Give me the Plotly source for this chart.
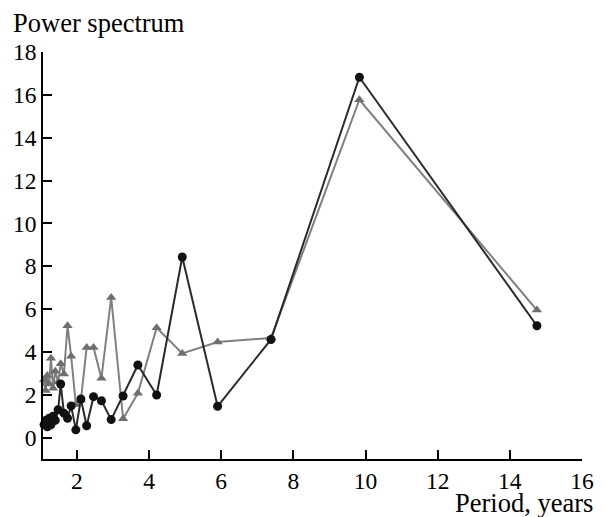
import plotly.graph_objects as go

# Periods (years)
periods = [14.75, 9.83, 7.38, 5.90, 4.92, 4.21, 3.69, 3.28, 2.95, 2.68,
           2.46, 2.27, 2.11, 1.97, 1.84, 1.74, 1.64, 1.55, 1.48, 1.40,
           1.34, 1.28, 1.23, 1.18, 1.13, 1.09, 1.05]

# Power spectrum, series with circles (black)
power_circles = [5.22, 16.82, 4.58, 1.46, 8.43, 1.99, 3.39, 1.94, 0.84, 1.72,
                 1.91, 0.55, 1.80, 0.36, 1.48, 0.90, 1.14, 2.50, 1.30, 0.80,
                 1.00, 0.60, 0.90, 0.50, 0.80, 0.60, 0.90]

# Power spectrum, series with triangles (grey)
power_triangles = [5.95, 15.77, 4.65, 4.46, 3.93, 5.13, 2.07, 0.88, 6.54, 2.77,
                   4.20, 4.20, 1.75, 1.55, 3.80, 5.22, 2.97, 3.45, 2.60, 3.10,
                   2.30, 3.70, 2.50, 2.90, 2.20, 2.70, 2.40]

x_ticks = [2, 4, 6, 8, 10, 12, 14, 16]
y_ticks = [0, 2, 4, 6, 8, 10, 12, 14, 16, 18]

FONT = "Liberation Serif, Times New Roman, serif"

fig = go.Figure()
fig.add_trace(go.Scatter(
    x=periods, y=power_triangles, mode="lines+markers",
    line=dict(color="#808080", width=2),
    marker=dict(symbol="triangle-up", size=9, color="#6e6e6e"),
    showlegend=False, cliponaxis=False))
fig.add_trace(go.Scatter(
    x=periods, y=power_circles, mode="lines+markers",
    line=dict(color="#2a2a2a", width=2),
    marker=dict(symbol="circle", size=9, color="#111111"),
    showlegend=False, cliponaxis=False))

L, R, T, B = 43, 15, 52, 58
W, H = 606, 517
pw, ph = W - L - R, H - T - B

def px2x(px):
    return (px - L) / pw

def py2y(py):
    return (H - B - py) / ph

fig.update_layout(
    width=W, height=H,
    margin=dict(l=L, r=R, t=T, b=B),
    paper_bgcolor="white", plot_bgcolor="white",
    font=dict(family=FONT, size=23, color="black"),
    xaxis=dict(range=[1.06, 16], tickvals=x_ticks, ticks="inside", ticklen=9,
               tickwidth=1.5, tickcolor="black", showline=True, linewidth=1.5,
               linecolor="black", showgrid=False, zeroline=False,
               tickfont=dict(family=FONT, size=23.5, color="black")),
    yaxis=dict(range=[-1, 18], tickvals=y_ticks, ticks="inside", ticklen=9,
               tickwidth=1.5, tickcolor="black", showline=True, linewidth=1.5,
               linecolor="black", showgrid=False, zeroline=False,
               tickfont=dict(family=FONT, size=23.5, color="black")),
    annotations=[
        dict(text="Power spectrum", xref="paper", yref="paper",
             x=px2x(10), y=py2y(23), xanchor="left", yanchor="middle",
             showarrow=False, font=dict(family=FONT, size=26.5, color="black")),
        dict(text="Period, years", xref="paper", yref="paper",
             x=px2x(604), y=py2y(503), xanchor="right", yanchor="middle",
             showarrow=False, font=dict(family=FONT, size=26.5, color="black")),
    ],
)

fig.write_html(
    "out.html",
    config={"displayModeBar": False},
    post_script="document.body.style.margin='0';document.body.style.overflow='hidden';",
)
